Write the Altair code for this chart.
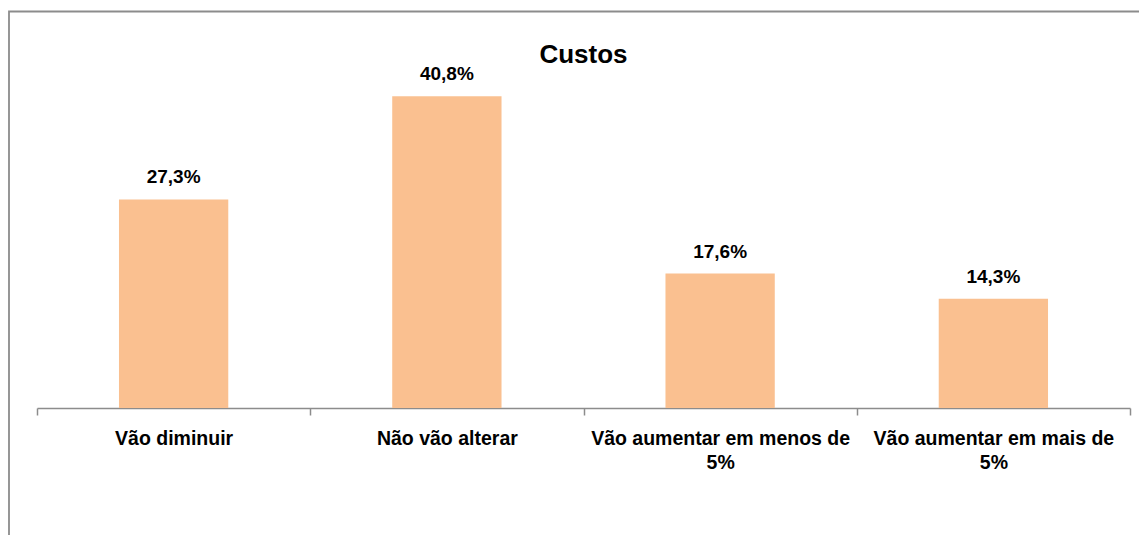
import altair as alt
import pandas as pd

categories = ["Vão diminuir", "Não vão alterar", "Vão aumentar em menos de|5%", "Vão aumentar em mais de|5%"]
values = [27.3, 40.8, 17.6, 14.3]
title_text = ["Custos"]

df = pd.DataFrame({"cat": categories, "v": values})

W, H = 1093, 382
FONT = "Liberation Sans"

base = alt.Chart(df)

x = alt.X("cat:N", sort=categories, title=None,
          scale=alt.Scale(paddingInner=0, paddingOuter=0),
          axis=alt.Axis(labelAngle=0, labelExpr="split(datum.label, '|')",
                        labelFont=FONT, labelFontSize=19.5, labelFontWeight="bold",
                        labelColor="#000000", labelLimit=400, labelOverlap=False,
                        labelPadding=14, labelLineHeight=24.5,
                        tickBand="extent", tickSize=7, tickWidth=1.5, tickColor="#8c8c8c",
                        domainColor="#8c8c8c", domainWidth=1.5, grid=False))
y = alt.Y("v:Q", scale=alt.Scale(domain=[0, 50]), axis=None)

bars = base.mark_bar(color="#FAC090", width=alt.RelativeBandSize(0.4)).encode(x=x, y=y)

labels = base.transform_calculate(
    lab="replace(format(datum.v, '.1f'), '.', ',') + '%'"
).mark_text(font=FONT, fontSize=19, fontWeight="bold", color="#000000",
            baseline="alphabetic", dy=-16).encode(x=x, y=y, text="lab:N")

frame = alt.Chart(alt.Data(values=[{}])).mark_rect(
    fillOpacity=0, stroke="#8c8c8c", strokeWidth=1.8
).encode(x=alt.value(-28.0), x2=alt.value(W + 80), y=alt.value(-14.5), y2=alt.value(H + 250))

title = alt.Chart(pd.DataFrame({"t": title_text})).mark_text(
    font=FONT, fontSize=26, fontWeight="bold", color="#000000",
    align="center", baseline="alphabetic"
).encode(x=alt.value(W / 2), y=alt.value(37), text="t:N")

chart = alt.layer(frame, bars, labels, title).properties(
    width=W, height=H,
    background="#ffffff",
    autosize=alt.AutoSizeParams(type="none"),
    padding={"left": 29, "top": 18, "right": 9, "bottom": 127},
).configure_view(strokeWidth=0, stroke=None)

chart.save("out.html", embed_options={"renderer": "svg", "actions": False})
